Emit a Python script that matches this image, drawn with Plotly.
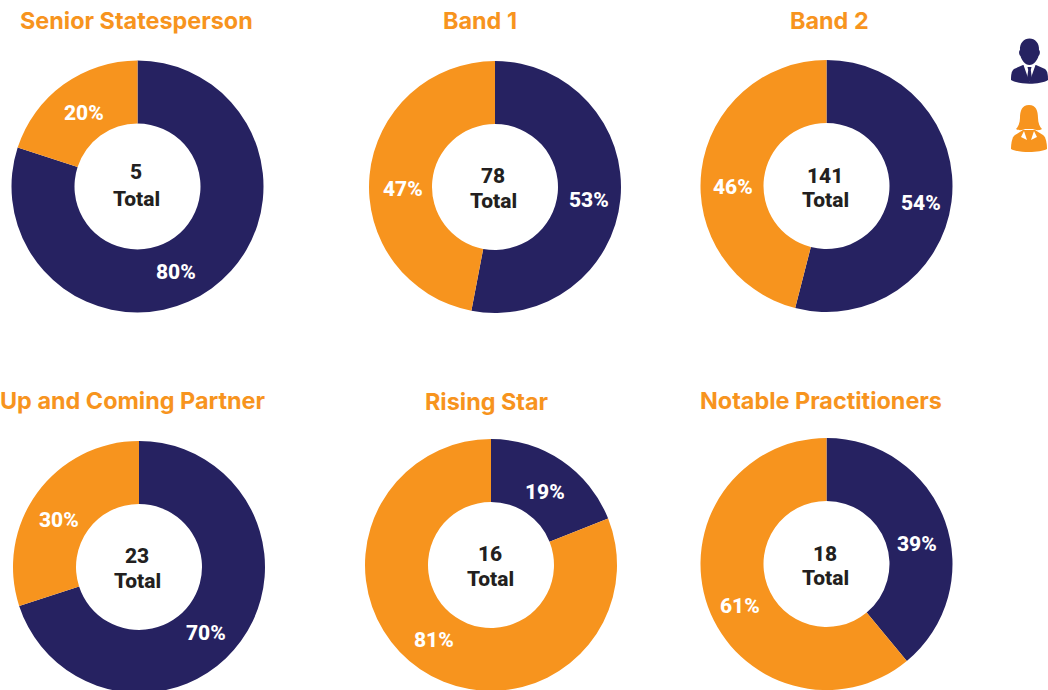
import plotly.graph_objects as go

# Data
titles = ["Senior Statesperson", "Band 1", "Band 2", "Up and Coming Partner", "Rising Star", "Notable Practitioners"]
men_pct = [80, 53, 54, 70, 19, 39]
women_pct = [20, 47, 46, 30, 81, 61]
totals = [5, 78, 141, 23, 16, 18]

NAVY = "#262261"
ORANGE = "#F7941E"
INK = "#231F20"
W, H = 1048, 700
R = 126
HOLE = 63 / 126
TITLE_FONT = "Inter"
LABEL_FONT = "Roboto"

# Layout positions (pixels)
centres = [(137.5, 186.5), (495, 187), (826.5, 186), (139, 567), (491, 565), (826.5, 564)]
title_pos = [(136, 20), (480, 20), (829, 20), (132.5, 400.5), (487, 401.5), (821, 400)]
men_label_pos = [(176, 272), (589, 200), (921, 203), (206, 633), (545, 492), (917, 544)]
women_label_pos = [(84, 113), (403, 189), (733, 187), (59, 520), (434, 640), (740, 606)]
count_pos = [(136, 172), (493, 176), (825, 176), (137, 556), (490, 554), (825, 554)]
total_pos = [(136, 199), (493, 201), (825, 200), (137, 581), (490, 579), (825, 578)]


def px(x):
    return x / W


def py(y):
    return 1 - y / H


def note(x, y, text, size, color, family, weight="bold"):
    return dict(x=px(x), y=py(y), xref="paper", yref="paper", text=text, showarrow=False,
                xanchor="center", yanchor="middle",
                font=dict(size=size, color=color, family=family, weight=weight))


def path(points):
    out = []
    for p in points:
        if isinstance(p, str):
            out.append(p)
        else:
            out.append(f"{px(p[0]):.5f},{py(p[1]):.5f}")
    return " ".join(out)


fig = go.Figure()
annotations = []
for i, title in enumerate(titles):
    cx, cy = centres[i]
    fig.add_trace(go.Pie(
        values=[men_pct[i], women_pct[i]], labels=["Men", "Women"],
        marker=dict(colors=[NAVY, ORANGE], line=dict(width=0)),
        hole=HOLE, sort=False, direction="clockwise", rotation=0,
        textinfo="none", showlegend=False,
        domain=dict(x=[px(cx - R), px(cx + R)], y=[py(cy + R), py(cy - R)]),
    ))
    annotations.append(note(*title_pos[i], title, 23.4, ORANGE, TITLE_FONT, 700))
    annotations.append(note(*men_label_pos[i], f"{men_pct[i]}%", 21, "white", LABEL_FONT, 800))
    annotations.append(note(*women_label_pos[i], f"{women_pct[i]}%", 21, "white", LABEL_FONT, 800))
    annotations.append(note(*count_pos[i], str(totals[i]), 21, INK, LABEL_FONT, 800))
    annotations.append(note(*total_pos[i], "Total", 21, INK, LABEL_FONT, 800))


def shape(points, color):
    return dict(type="path", xref="paper", yref="paper", path=path(points),
                fillcolor=color, line=dict(width=0), layer="above")


man_head = ["M", (1029.5, 38.5), "C", (1035, 38.5), (1039.5, 43), (1039, 50),
            "C", (1040.5, 51), (1040, 55), (1038.5, 56), "C", (1037.5, 60), (1034, 65), (1029.5, 65),
            "C", (1025, 65), (1021.5, 60), (1020.5, 56), "C", (1019, 55), (1018.5, 51), (1020, 50),
            "C", (1019.5, 43), (1024, 38.5), (1029.5, 38.5), "Z"]
man_body = ["M", (1023, 65), "L", (1036, 65), "L", (1045, 69), "C", (1048, 71), (1048, 77), (1048, 80),
            "C", (1040, 85), (1019, 85), (1011, 80), "C", (1011, 77), (1011, 71), (1014, 69), "Z"]
man_shirt = ["M", (1023.5, 65), "L", (1035.5, 65), "L", (1029.5, 82), "Z"]
man_tie = ["M", (1027.5, 67), "L", (1031.5, 67), "L", (1030.8, 70), "L", (1032, 79), "L", (1029.5, 82),
           "L", (1027, 79), "L", (1028.2, 70), "Z"]
woman_hair = ["M", (1029, 105), "C", (1036, 105), (1038, 111), (1038, 118), "C", (1038, 123), (1040, 127), (1042, 129),
              "C", (1039, 131), (1035, 130), (1033, 129), "L", (1025, 129), "C", (1023, 130), (1019, 131), (1016, 129),
              "C", (1018, 127), (1020, 123), (1020, 118), "C", (1020, 111), (1022, 105), (1029, 105), "Z"]
woman_body = ["M", (1023, 130), "L", (1035, 130), "L", (1043, 135), "C", (1046, 137), (1047, 144), (1047, 149),
              "C", (1040, 153), (1018, 153), (1011, 149), "C", (1011, 144), (1012, 137), (1015, 135), "Z"]
woman_collar = ["M", (1024, 131), "L", (1029, 146), "L", (1034, 131), "L", (1037, 137), "L", (1031, 140),
                "L", (1029, 146), "L", (1027, 140), "L", (1021, 137), "Z"]

shapes = [
    shape(man_body, NAVY), shape(man_shirt, "white"), shape(man_tie, NAVY), shape(man_head, NAVY),
    shape(woman_body, ORANGE), shape(woman_hair, ORANGE), shape(woman_collar, "white"),
]

fig.update_layout(
    width=W, height=H, margin=dict(l=0, r=0, t=0, b=0),
    paper_bgcolor="white", plot_bgcolor="white",
    annotations=annotations, shapes=shapes,
)
fig.write_html(
    "out.html",
    config={"displayModeBar": False},
    post_script="document.body.style.margin='0';document.documentElement.style.overflow='hidden';document.body.style.overflow='hidden';",
)
